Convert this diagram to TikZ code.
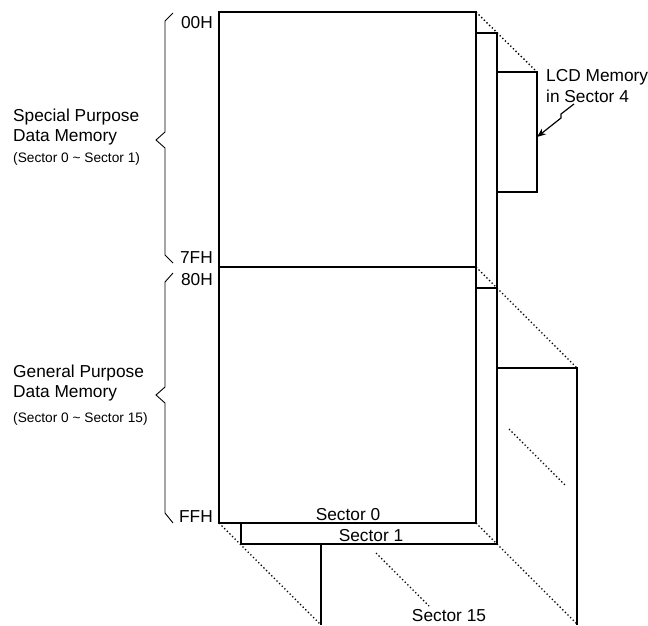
\documentclass[tikz,border=0pt]{standalone}
\usepackage{fontspec}
\setmainfont{Liberation Sans}
\usetikzlibrary{arrows.meta}
\tikzset{
  solidline/.style={line width=1.3pt, line join=miter},
  dotline/.style={line width=1.4pt, dash pattern=on 1.3pt off 2.4pt},
  braceline/.style={line width=0.9pt},
  bigtext/.style={inner sep=0pt, font=\fontsize{17.3}{20}\selectfont},
  smalltext/.style={inner sep=0pt, font=\fontsize{13.7}{16}\selectfont},
}
\begin{document}
\begin{tikzpicture}[x=1pt,y=-1pt]
\useasboundingbox (0,0) rectangle (648,625);
% coordinates
\coordinate (mTL) at (219,12);
\coordinate (mTR) at (476,12);
\coordinate (mBL) at (219,523);
\coordinate (mBR) at (476,523);
\coordinate (mML) at (219,267);
\coordinate (mMR) at (476,267);
\coordinate (s1T) at (497,33);
\coordinate (s1M) at (497,288);
\coordinate (s1BR) at (497,544);
\coordinate (s1BL) at (241,544);
\coordinate (s1TL) at (241,523);
\coordinate (lTL) at (497,72);
\coordinate (lTR) at (537,72);
\coordinate (lBR) at (537,192);
\coordinate (lBL) at (497,192);
\coordinate (fTL) at (497,368);
\coordinate (fTR) at (577,368);
\coordinate (fBR) at (577,625);
\coordinate (fLT) at (321,544);
\coordinate (fLB) at (321,625);
\coordinate (dA) at (219,523);
\coordinate (dAe) at (321,625);
\coordinate (dB) at (476,523);
\coordinate (dBe) at (577,624);
\coordinate (dC1) at (376,553);
\coordinate (dC2) at (429,606);
\coordinate (dD1) at (509,429);
\coordinate (dD2) at (566,486);
% main block
\draw[solidline] (mTL) rectangle (mBR);
\draw[solidline] (mML) -- (mMR);
% sector 1
\draw[solidline] (mTR |- s1T) -- (s1T) -- (s1BR) -- (s1BL) -- (s1TL);
\draw[solidline] (mMR |- s1M) -- (s1M);
% LCD block
\draw[solidline] (lTL) -- (lTR) -- (lBR) -- (lBL);
% sector 15
\draw[solidline] (fTL) -- (fTR) -- (fBR);
\draw[solidline] (fLT) -- (fLB);
% dotted
\draw[dotline] (mTR) -- (lTR);
\draw[dotline] (mMR) -- (fTR);
\draw[dotline] (dB) -- (dBe);
\draw[dotline] (dA) -- (dAe);
\draw[dotline] (dC1) -- (dC2);
\draw[dotline] (dD1) -- (dD2);
% braces
\draw[braceline] (173,13) -- (165,21) -- (165,132) -- (156,140) -- (165,148) -- (165,255) -- (173,263);
\draw[braceline] (173,273) -- (165,282) -- (165,387) -- (156,395) -- (165,403) -- (165,513) -- (173,523);
% hex labels
\node[bigtext, anchor=base east] (h00) at (213,28) {00H};
\node[bigtext, anchor=base east] (h7f) at (213,263) {7FH};
\node[bigtext, anchor=base east] (h80) at (213,285) {80H};
\node[bigtext, anchor=base east] (hff) at (213,522) {FFH};
% left labels
\node[bigtext, anchor=base west] (sp1) at (13,121) {Special Purpose};
\node[bigtext, anchor=base west] (sp2) at (13,141) {Data Memory};
\node[smalltext, anchor=base west] (sp3) at (13,162) {(Sector 0 \textasciitilde{} Sector 1)};
\node[bigtext, anchor=base west] (gp1) at (13,377) {General Purpose};
\node[bigtext, anchor=base west] (gp2) at (13,397) {Data Memory};
\node[smalltext, anchor=base west] (gp3) at (13,422) {(Sector 0 \textasciitilde{} Sector 15)};
% sector labels
\node[bigtext, anchor=base] (sec0) at (348,520) {Sector 0};
\node[bigtext, anchor=base] (sec1) at (371,541) {Sector 1};
\node[bigtext, anchor=base] (sec15) at (449,621) {Sector 15};
% LCD label
\node[bigtext, anchor=base west] (lcd1) at (546,81) {LCD Memory};
\node[bigtext, anchor=base west] (lcd2) at (546,102) {in Sector 4};
\coordinate (arS) at (574,104);
\coordinate (arE) at (537,137);
\draw[line width=1.2pt, -{Stealth[length=9pt,width=7pt]}] (arS) -- (561,114) -- (561,118) -- (arE);
\end{tikzpicture}
\end{document}
